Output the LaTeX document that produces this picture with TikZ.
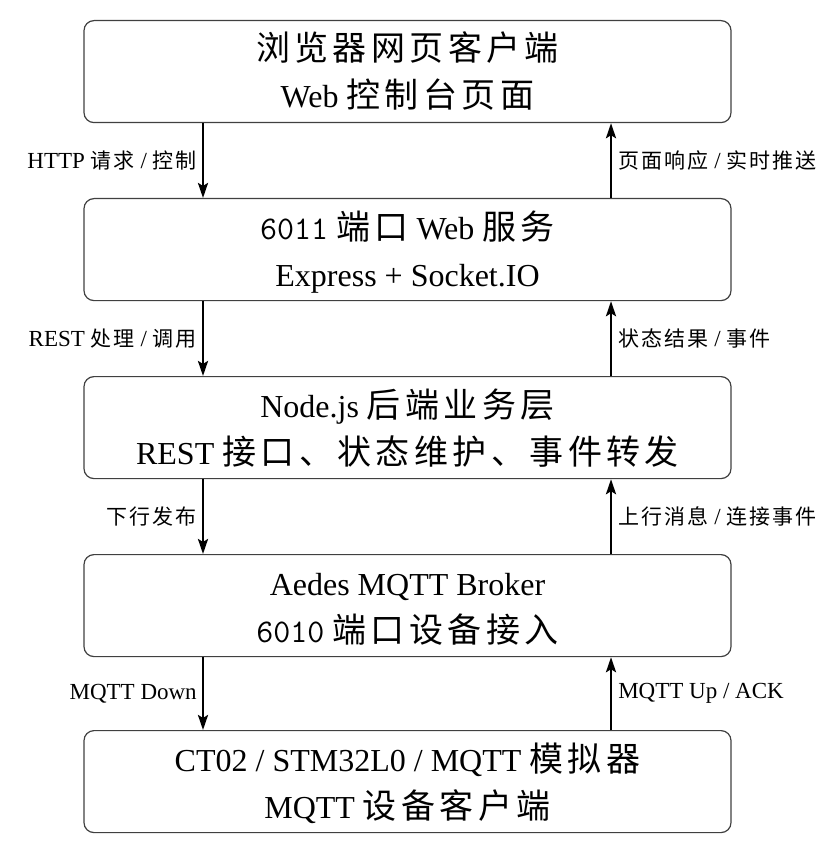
\documentclass[tikz,border=0pt]{standalone}
\usepackage{fontspec}
\setmainfont{Liberation Serif}
\newfontfamily\cjkbox{Noto Sans CJK SC}[LetterSpace=13]
\newfontfamily\cjklab{Noto Sans CJK SC}[LetterSpace=10]
\newcommand\bcj[1]{{\cjkbox\fontsize{34}{40}\selectfont #1}}
\newcommand\lcj[1]{{\cjklab\fontsize{21}{26}\selectfont #1}}
\usetikzlibrary{arrows.meta,calc}
\begin{document}
\begin{tikzpicture}[x=1pt,y=1pt,
  box/.style={draw=black!75,line width=1.2pt,rounded corners=10pt,minimum width=647pt,minimum height=102pt,inner sep=0pt,anchor=north},
  txt/.style={anchor=base,inner sep=0pt,font=\fontsize{32}{38}\selectfont},
  flow/.style={line width=2.5pt,-{Stealth[length=15pt,width=10pt,inset=3pt]}},
  lab/.style={inner sep=0pt,font=\fontsize{23}{28}\selectfont}
]
\useasboundingbox (0,0) rectangle (831,-850);
\node[box] (b1) at (407.5,-20) {};
\node[box] (b2) at (407.5,-198) {};
\node[box] (b3) at (407.5,-376) {};
\node[box] (b4) at (407.5,-554) {};
\node[box] (b5) at (407.5,-730) {};

\node[txt] (b1a) at ($(b1.north)+(0,-41)$) {\bcj{浏览器网页客户端}};
\node[txt] (b1b) at ($(b1.north)+(0,-88)$) {Web \bcj{控制台页面}};
\node[txt] (b2a) at ($(b2.north)+(0,-41)$) {{\ttfamily\fontsize{33}{38}\selectfont 6011} \bcj{端口} Web \bcj{服务}};
\node[txt] (b2b) at ($(b2.north)+(0,-88)$) {Express + Socket.IO};
\node[txt] (b3a) at ($(b3.north)+(0,-41)$) {Node.js \bcj{后端业务层}};
\node[txt] (b3b) at ($(b3.north)+(0,-88)$) {REST \bcj{接口、状态维护、事件转发}};
\node[txt] (b4a) at ($(b4.north)+(0,-41)$) {Aedes MQTT Broker};
\node[txt] (b4b) at ($(b4.north)+(0,-88)$) {{\ttfamily\fontsize{33}{38}\selectfont 6010} \bcj{端口设备接入}};
\node[txt] (b5a) at ($(b5.north)+(0,-41)$) {CT02 / STM32L0 / MQTT \bcj{模拟器}};
\node[txt] (b5b) at ($(b5.north)+(0,-88)$) {MQTT \bcj{设备客户端}};

\draw[flow] ($(b1.south)+(-204.5,0)$) -- ($(b2.north)+(-204.5,0)$) node[midway,left=5pt,lab] (l1) {HTTP \lcj{请求} / \lcj{控制}};
\draw[flow] ($(b2.north)+(203.5,0)$) -- ($(b1.south)+(203.5,0)$) node[midway,right=6pt,lab] (r1) {\lcj{页面响应} / \lcj{实时推送}};
\draw[flow] ($(b2.south)+(-204.5,0)$) -- ($(b3.north)+(-204.5,0)$) node[midway,left=5pt,lab] (l2) {REST \lcj{处理} / \lcj{调用}};
\draw[flow] ($(b3.north)+(203.5,0)$) -- ($(b2.south)+(203.5,0)$) node[midway,right=6pt,lab] (r2) {\lcj{状态结果} / \lcj{事件}};
\draw[flow] ($(b3.south)+(-204.5,0)$) -- ($(b4.north)+(-204.5,0)$) node[midway,left=5pt,lab] (l3) {\lcj{下行发布}};
\draw[flow] ($(b4.north)+(203.5,0)$) -- ($(b3.south)+(203.5,0)$) node[midway,right=6pt,lab] (r3) {\lcj{上行消息} / \lcj{连接事件}};
\draw[flow] ($(b4.south)+(-204.5,0)$) -- ($(b5.north)+(-204.5,0)$) node[midway,left=5pt,lab] (l4) {MQTT Down};
\draw[flow] ($(b5.north)+(203.5,0)$) -- ($(b4.south)+(203.5,0)$) node[midway,right=6pt,lab] (r4) {MQTT Up / ACK};
\end{tikzpicture}
\end{document}
